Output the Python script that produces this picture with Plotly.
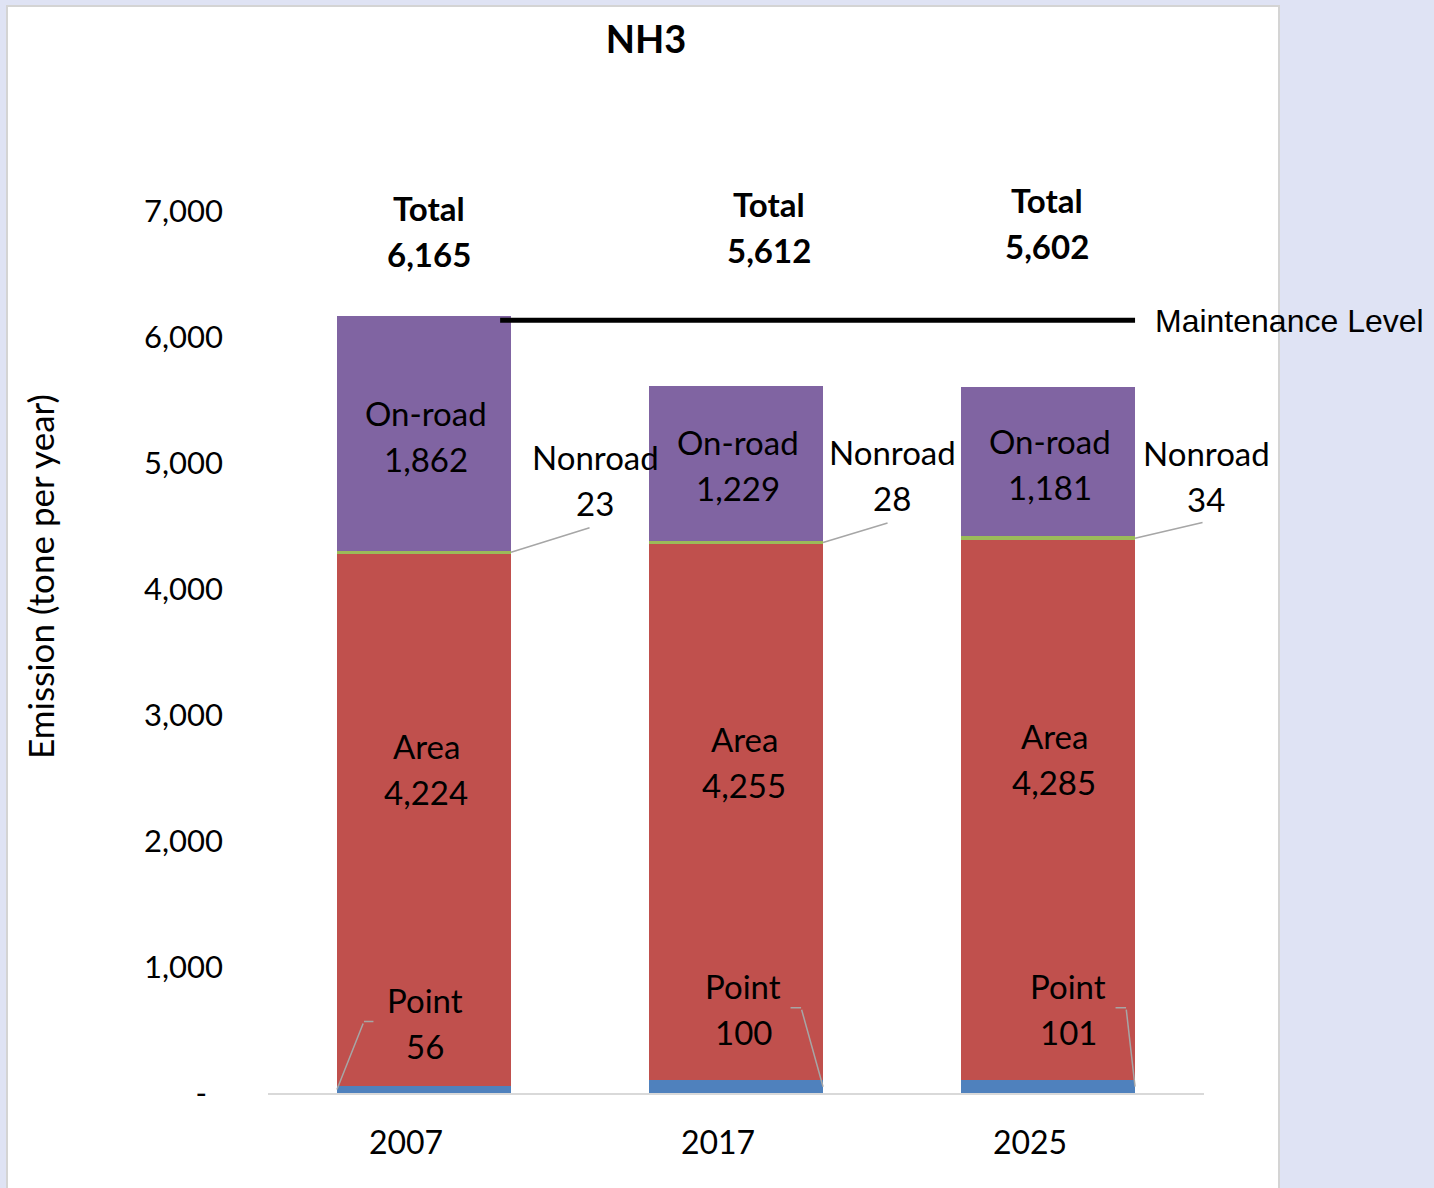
import plotly.graph_objects as go

# ---------------- data ----------------
years = ["2007", "2017", "2025"]
point = [56, 100, 101]
area = [4224, 4255, 4285]
nonroad = [23, 28, 34]
onroad = [1862, 1229, 1181]
totals = [6165, 5612, 5602]
maintenance_level = 6165
y_tick_vals = [0, 1000, 2000, 3000, 4000, 5000, 6000, 7000]
y_tick_text = ["-\u00a0\u00a0", "1,000", "2,000", "3,000", "4,000", "5,000", "6,000", "7,000"]

series = [
    ("Point", point, "#4F81BD"),
    ("Area", area, "#C0504D"),
    ("Nonroad", nonroad, "#9BBB59"),
    ("On-road", onroad, "#8064A2"),
]

# ---------------- layout params ----------------
W, H = 1434, 1188
L, R, T, B = 268, 1434 - 1204, 211, 1188 - 1093
PW, PH = W - L - R, H - T - B
BARGAP = 0.442
HALF = (1 - BARGAP) / 2
FONT = "Lato"
LBL = 33
LINE_GAP = 23  # half distance between the two lines of a label
BG = "#dfe3f4"

fig = go.Figure()
for name, vals, col in series:
    fig.add_trace(go.Bar(x=years, y=vals, name=name, marker=dict(color=col, line=dict(width=0)),
                         hoverinfo="x+y+name"))

ann = []


def two_lines(x, y, l1, l2, xshift=0, yshift=0, bold=False):
    for txt, dy in ((l1, LINE_GAP), (l2, -LINE_GAP)):
        t = f"<b>{txt}</b>" if bold else txt
        ann.append(dict(x=x, y=y, xref="x", yref="y", text=t, showarrow=False,
                        xanchor="center", yanchor="middle", xshift=xshift, yshift=yshift + dy,
                        font=dict(family=FONT, size=LBL, color="black")))


def leader(x, y, ax, ay, xshift=0, yshift=0):
    ann.append(dict(x=x, y=y, xref="x", yref="y", text=" ", showarrow=True, arrowhead=0,
                    arrowwidth=1.5, arrowcolor="#a6a6a6", ax=ax, ay=ay, standoff=0,
                    startstandoff=0, xshift=xshift, yshift=yshift, font=dict(size=1)))


# offsets (pixels) for manually placed labels
onroad_dx = [2, 2, 2]
area_dx, area_dy = [2, 8, 6], [51, 50, 51]
point_dx, point_dy = [1, 7, 20], [63, 71, 71]
point_leader = [(-1, 27, -68, 11), (1, -22, -79, -12), (1, -9, -79, -12)]  # side, ax, ay, elbow
non_dx, non_dy = [84, 69, 71], [72, 68, 62]
non_leader = [(80, -25), (66, -20), (69, -16)]
tot_dx, tot_dy = [5, 33, -1], [85, 159, 164]

for i in range(3):
    base_area = point[i]
    base_non = point[i] + area[i]
    base_on = base_non + nonroad[i]
    # On-road
    two_lines(i, base_on + onroad[i] / 2, "On-road", f"{onroad[i]:,}", onroad_dx[i], -2)
    # Area
    two_lines(i, base_area + area[i] / 2, "Area", f"{area[i]:,}", area_dx[i], area_dy[i])
    # Point
    two_lines(i, point[i], "Point", f"{point[i]:,}", point_dx[i], point_dy[i])
    side, ax, ay, el = point_leader[i]
    leader(i + side * HALF, point[i] / 2, ax, ay)
    leader(i + side * HALF, point[i] / 2, el, 0, xshift=ax, yshift=-ay)
    # Nonroad
    two_lines(i + HALF, base_non + nonroad[i] / 2, "Nonroad", f"{nonroad[i]:,}", non_dx[i], non_dy[i])
    nax, nay = non_leader[i]
    leader(i + HALF, base_non + nonroad[i] / 2, nax, nay)
    # Total
    two_lines(i, base_on + onroad[i], "Total", f"{totals[i]:,}", tot_dx[i], tot_dy[i], bold=True)

# maintenance level
x_start = 0.244
x_end = 2 + HALF
ann.append(dict(x=x_end, y=maintenance_level, xref="x", yref="y", text="Maintenance Level",
                showarrow=False, xanchor="left", yanchor="middle", xshift=18, yshift=-5,
                font=dict(family="Liberation Sans", size=32, color="black")))

# y axis title
ann.append(dict(x=(40 - L) / PW, y=(1093 - 577) / PH, xref="paper", yref="paper",
                text="Emission (tone per year)", textangle=-90, showarrow=False,
                xanchor="center", yanchor="middle", font=dict(family=FONT, size=35, color="black")))

shapes = [
    dict(type="rect", xref="paper", yref="paper", x0=(7 - L) / PW, x1=(1279 - L) / PW,
         y0=(1093 - 1230) / PH, y1=(1093 - 6) / PH, fillcolor="white",
         line=dict(color="#d4d4d4", width=2), layer="below"),
    dict(type="line", xref="x", yref="y", x0=x_start, x1=x_end,
         ysizemode="pixel", yanchor=maintenance_level, y0=-4, y1=-4,
         line=dict(color="black", width=5)),
]

fig.update_layout(
    width=W, height=H,
    margin=dict(l=L, r=R, t=T, b=B, pad=0),
    barmode="stack", bargap=BARGAP,
    showlegend=False,
    paper_bgcolor=BG, plot_bgcolor="rgba(0,0,0,0)",
    font=dict(family=FONT, size=30, color="black"),
    title=dict(text="<b>NH3</b>", x=646 / W, xref="container", xanchor="center",
               y=1 - 40 / H, yref="container", yanchor="middle",
               font=dict(family=FONT, size=38, color="black")),
    annotations=ann,
    shapes=shapes,
    xaxis=dict(type="category", range=[-0.5, 2.5], autorange=False, showline=True,
               linecolor="#d9d9d9", linewidth=2,
               showgrid=False, ticks="", tickfont=dict(family=FONT, size=32, color="black"),
               ticklabelshift=-18, ticklabelstandoff=21, zeroline=False),
    yaxis=dict(range=[0, 7000], autorange=False, showline=False, showgrid=False, zeroline=False,
               ticks="", tickvals=y_tick_vals, ticktext=y_tick_text, ticklabelstandoff=44,
               tickfont=dict(family=FONT, size=31, color="black")),
)

fig.write_html("out.html", config={"displayModeBar": False},
               post_script=f"document.body.style.margin='0';document.body.style.background='{BG}';")
